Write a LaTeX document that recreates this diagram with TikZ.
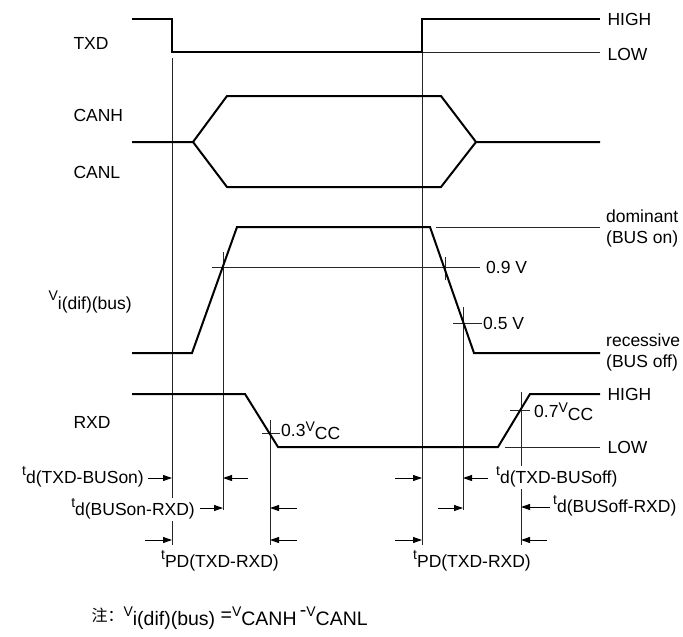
\documentclass[tikz,border=0pt]{standalone}
\usepackage{fontspec}
\setmainfont{Liberation Sans}
\newfontfamily\cjk{Noto Sans CJK SC}
\usetikzlibrary{arrows.meta}
\newcommand{\lsub}[2]{\raisebox{.55ex}{\fontsize{14}{14}\selectfont#1}\raisebox{-.35ex}{#2}}
\begin{document}
\begin{tikzpicture}[x=1pt,y=-1pt,font=\fontsize{17.5}{21}\selectfont,
	sig/.style={line width=2pt,line join=miter},
	thin/.style={line width=0.9pt,black!85},
	dim/.style={line width=0.9pt,-{Triangle[length=9pt,width=6pt]}},
	lbl/.style={inner sep=1pt,fill=white}]
	\useasboundingbox (0,0) rectangle (683,637);
	\def\tA{172} % t_d(TXD-BUSon) start
	\def\tB{223}
	\def\tC{270}
	\def\tD{422}
	\def\tE{463}
	\def\tF{521}
	% marker lines
	\draw[thin] (\tA,58)--(\tA,545);
	\draw[thin] (\tB,252)--(\tB,510);
	\draw[thin] (\tC,420)--(\tC,545);
	\draw[thin] (\tD,52)--(\tD,545);
	\draw[thin] (\tE,307)--(\tE,510);
	\draw[thin] (\tF,392)--(\tF,545);
	\draw[thin] (212,267)--(480,267) (445,257)--(445,280);
	\draw[thin] (453,323)--(482,323);
	\draw[thin] (262,433)--(280,433);
	\draw[thin] (510,410)--(530,410);
	\draw[thin] (\tD,52)--(600,52);
	\draw[thin] (436,227)--(600,227);
	\draw[thin] (505,447)--(600,447);
	% signals
	\draw[sig] (132,19)--(\tA,19)--(\tA,52)--(\tD,52)--(\tD,19)--(600,19);
	\draw[sig] (132,142)--(193,142)--(227,96)--(441,96)--(476,142)--(600,142);
	\draw[sig] (193,142)--(227,187)--(441,187)--(476,142);
	\draw[sig] (132,353)--(192,353)--(237,227)--(430,227)--(474,353)--(600,353);
	\draw[sig] (132,394)--(245,394)--(278,447)--(498,447)--(530,394)--(600,394);
	% signal names
	\node[anchor=west] (txd) at (70,43) {TXD};
	\node[anchor=west] (canh) at (70,115) {CANH};
	\node[anchor=west] (canl) at (70,172) {CANL};
	\node[anchor=west] (vi) at (45,302) {\lsub{V}{i(dif)(bus)}};
	\node[anchor=west] (rxd) at (70,422) {RXD};
	\node[anchor=west] (txdh) at (604,19) {HIGH};
	\node[anchor=west] (txdl) at (604,54) {LOW};
	\node[anchor=west,align=left,inner sep=0pt] (dom) at (606,228) {dominant\\(BUS on)};
	\node[anchor=west,align=left,inner sep=0pt] (rec) at (606,352) {recessive\\(BUS off)};
	\node[anchor=west] (rxdh) at (604,394) {HIGH};
	\node[anchor=west] (rxdl) at (604,447) {LOW};
	% thresholds
	\node[anchor=west,inner sep=1pt] (v09) at (485,267) {0.9 V};
	\node[anchor=west,inner sep=1pt] (v05) at (482,323) {0.5 V};
	\node[anchor=west,inner sep=1pt] (v03) at (280,431) {0.3\lsub{V}{CC}};
	\node[anchor=west,inner sep=1pt] (v07) at (533,412) {0.7\lsub{V}{CC}};
	% delays
	\draw[dim] (148,478)--(\tA,478);
	\draw[dim] (248,478)--(\tB,478);
	\draw[dim] (200,508)--(\tB,508);
	\draw[dim] (297,508)--(\tC,508);
	\draw[dim] (145,540)--(\tA,540);
	\draw[dim] (297,540)--(\tC,540);
	\draw[dim] (395,478)--(\tD,478);
	\draw[dim] (488,478)--(\tE,478);
	\draw[dim] (438,508)--(\tE,508);
	\draw[dim] (550,507)--(\tF,507);
	\draw[dim] (395,540)--(\tD,540);
	\draw[dim] (547,540)--(\tF,540);
	\node[lbl,anchor=east] (tdon) at (145,477) {\lsub{t}{d(TXD-BUSon)}};
	\node[lbl,anchor=east] (tdonrx) at (196,509) {\lsub{t}{d(BUSon-RXD)}};
	\node[lbl,anchor=west] (tdoff) at (495,477) {\lsub{t}{d(TXD-BUSoff)}};
	\node[lbl,anchor=west] (tdoffrx) at (552,506) {\lsub{t}{d(BUSoff-RXD)}};
	\node[lbl] (tpd1) at (220,561) {\lsub{t}{PD(TXD-RXD)}};
	\node[lbl] (tpd2) at (472,561) {\lsub{t}{PD(TXD-RXD)}};
	% note
	\node[anchor=west,font=\fontsize{19.5}{22}\selectfont] (note) at (88,618) {{\cjk\fontsize{16}{16}\selectfont 注：}\lsub{V}{i(dif)(bus)} =\lsub{V}{CANH}\,\raisebox{.5ex}{-}\lsub{V}{CANL}};
\end{tikzpicture}
\end{document}
